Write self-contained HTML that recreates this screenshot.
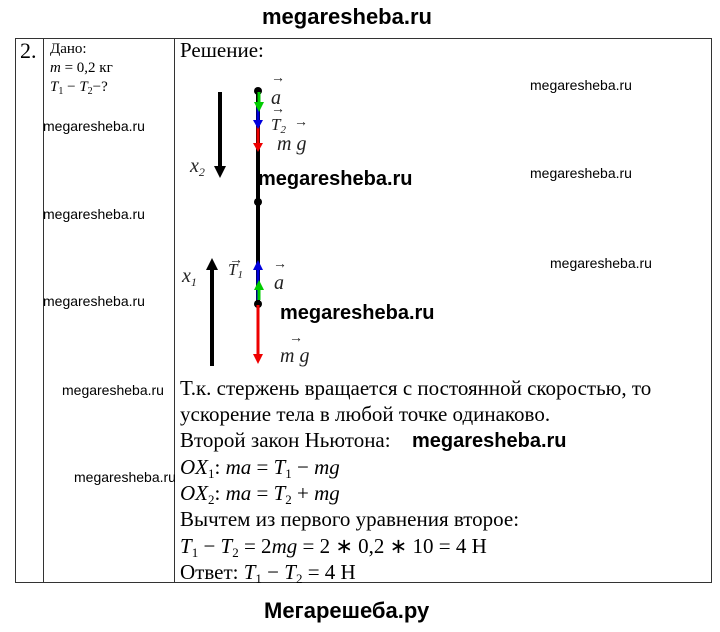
<!DOCTYPE html>
<html><head><meta charset="utf-8"><style>
body{margin:0;width:720px;height:632px;background:#fff;position:relative;overflow:hidden;font-family:"Liberation Serif",serif;}
.a{position:absolute;white-space:nowrap;}
.wm{font-family:"Liberation Sans",sans-serif;font-size:14px;color:#000;}
.big{font-family:"Liberation Sans",sans-serif;font-weight:bold;font-size:20px;}
.t{font-size:21px;line-height:24px;left:180px;}
i{font-style:italic}
s{text-decoration:none;font-size:13px;position:relative;top:4px;line-height:0}
</style></head><body>
<div class="a" style="left:15px;top:38px;width:697px;height:545px;border:1px solid #333;box-sizing:border-box"></div>
<div class="a" style="left:43px;top:38px;width:1px;height:545px;background:#333"></div>
<div class="a" style="left:174px;top:38px;width:1px;height:545px;background:#333"></div>
<div class="a big" style="left:262px;top:4px;font-size:22px">megaresheba.ru</div>
<div class="a big" style="left:264px;top:598px;font-size:22px">Мегарешеба.ру</div>
<div class="a" style="left:20px;top:38px;font-size:22px">2.</div>
<div class="a" style="left:50px;top:40px;font-size:15px;line-height:19px">Дано:<br><i>m</i> = 0,2 кг<br><i>T</i><s style="font-size:10px;top:3px">1</s> − <i>T</i><s style="font-size:10px;top:3px">2</s>−?</div>
<div class="a" style="left:180px;top:38px;font-size:21px">Решение:</div>
<div class="a wm" style="left:530px;top:77px">megaresheba.ru</div>
<div class="a wm" style="left:43px;top:118px">megaresheba.ru</div>
<div class="a wm" style="left:530px;top:165px">megaresheba.ru</div>
<div class="a wm" style="left:43px;top:206px">megaresheba.ru</div>
<div class="a wm" style="left:550px;top:255px">megaresheba.ru</div>
<div class="a wm" style="left:43px;top:293px">megaresheba.ru</div>
<div class="a wm" style="left:62px;top:382px">megaresheba.ru</div>
<div class="a wm" style="left:74px;top:469px">megaresheba.ru</div>
<div class="a big" style="left:258px;top:168px">megaresheba.ru</div>
<div class="a big" style="left:280px;top:302px">megaresheba.ru</div>
<div class="a big" style="left:412px;top:430px">megaresheba.ru</div>
<svg class="a" style="left:0;top:0" width="720" height="632">
<g stroke="#000" stroke-width="4"><line x1="220" y1="92" x2="220" y2="168"/><line x1="212" y1="268" x2="212" y2="366"/></g>
<polygon points="214,166 226,166 220,178" fill="#000"/>
<polygon points="206,270 218,270 212,258" fill="#000"/>
<line x1="258" y1="90" x2="258" y2="305" stroke="#000" stroke-width="4"/>
<circle cx="258" cy="91" r="4"/><circle cx="258" cy="202" r="4"/><circle cx="258" cy="304" r="4"/>
<line x1="258" y1="112" x2="258" y2="145" stroke="#e00" stroke-width="3"/><polygon points="253,143 263,143 258,152" fill="#e00"/>
<line x1="258" y1="105" x2="258" y2="122" stroke="#00d" stroke-width="3"/><polygon points="253,120 263,120 258,129" fill="#00d"/>
<line x1="259" y1="92" x2="259" y2="105" stroke="#0c0" stroke-width="3"/><polygon points="254,102 264,102 259,112" fill="#0c0"/>
<line x1="258" y1="305" x2="258" y2="355" stroke="#e00" stroke-width="3"/><polygon points="253,354 263,354 258,364" fill="#e00"/>
<line x1="258" y1="300" x2="258" y2="268" stroke="#00d" stroke-width="3"/><polygon points="253,270 263,270 258,260" fill="#00d"/>
<line x1="259" y1="300" x2="259" y2="288" stroke="#0c0" stroke-width="3"/><polygon points="254,290 264,290 259,280" fill="#0c0"/>
<g font-family="Liberation Serif" font-style="italic" font-size="20" fill="#222">
<text x="271" y="104">a</text><text x="271" y="130" font-size="17">T<tspan font-size="11" dy="3">2</tspan></text><text x="277" y="150">m g</text>
<text x="190" y="172">x<tspan font-size="12" dy="4">2</tspan></text>
<text x="182" y="282">x<tspan font-size="12" dy="4">1</tspan></text>
<text x="228" y="275" font-size="17">T<tspan font-size="11" dy="3">1</tspan></text>
<text x="274" y="289">a</text><text x="280" y="362">m g</text>
</g>
<g font-family="Liberation Serif" font-size="14" fill="#222">
<text x="271" y="82">→</text><text x="271" y="113">→</text><text x="294" y="126">→</text>
<text x="229" y="264">→</text><text x="273" y="268">→</text><text x="289" y="342">→</text>
</g>
</svg>
<div class="a t" style="top:376px">Т.к. стержень вращается с постоянной скоростью, то</div>
<div class="a t" style="top:402px">ускорение тела в любой точке одинаково.</div>
<div class="a t" style="top:428px">Второй закон Ньютона:</div>
<div class="a t" style="top:455px"><i>OX</i><s>1</s>: <i>ma</i> = <i>T</i><s>1</s> − <i>mg</i></div>
<div class="a t" style="top:481px"><i>OX</i><s>2</s>: <i>ma</i> = <i>T</i><s>2</s> + <i>mg</i></div>
<div class="a t" style="top:507px">Вычтем из первого уравнения второе:</div>
<div class="a t" style="top:534px"><i>T</i><s>1</s> − <i>T</i><s>2</s> = 2<i>mg</i> = 2 ∗ 0,2 ∗ 10 = 4 Н</div>
<div class="a t" style="top:560px">Ответ: <i>T</i><s>1</s> − <i>T</i><s>2</s> = 4 Н</div>
</body></html>
